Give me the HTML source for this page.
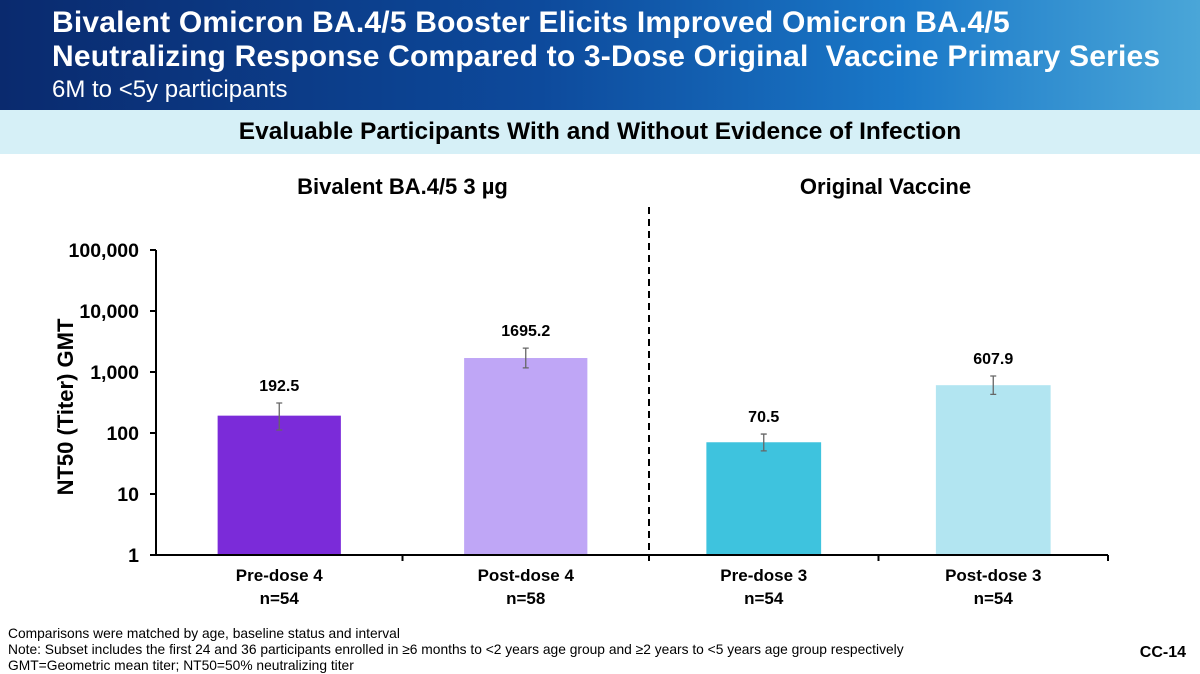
<!DOCTYPE html>
<html><head><meta charset="utf-8"><style>
body{margin:0;width:1200px;height:674px;overflow:hidden;background:#fff;font-family:"Liberation Sans",Arial,sans-serif;position:relative}
.hdr{position:absolute;left:0;top:0;width:1200px;height:110px;background:linear-gradient(90deg,#0a2a6e 0%,#0d4a9c 45%,#1a78c8 75%,#4aa6d8 100%)}
.t{position:absolute;left:52px;color:#fff;font-weight:bold;font-size:30px;white-space:nowrap;letter-spacing:0.2px}
.band{position:absolute;left:0;top:110px;width:1200px;height:44px;background:#d6f0f7}
.note{position:absolute;left:8px;font-size:13.8px;color:#000;white-space:nowrap}
</style></head><body>
<div class="hdr"></div>
<div class="t" style="top:6px">Bivalent Omicron BA.4/5 Booster Elicits Improved Omicron BA.4/5</div>
<div class="t" style="top:40px">Neutralizing Response Compared to 3-Dose Original&nbsp; Vaccine Primary Series</div>
<div class="t" style="top:76px;font-weight:normal;font-size:24px;letter-spacing:0">6M to &lt;5y participants</div>
<div class="band"></div>
<div style="position:absolute;top:118px;width:1200px;text-align:center;font-weight:bold;font-size:24.5px">Evaluable Participants With and Without Evidence of Infection</div>
<svg id="chart" width="1200" height="674" style="position:absolute;left:0;top:0"></svg>
<div class="note" style="top:626px">Comparisons were matched by age, baseline status and interval</div>
<div class="note" style="top:642px">Note: Subset includes the first 24 and 36 participants enrolled in ≥6 months to &lt;2 years age group and ≥2 years to &lt;5 years age group respectively</div>
<div class="note" style="top:658px">GMT=Geometric mean titer; NT50=50% neutralizing titer</div>
<div style="position:absolute;right:14px;top:644px;font-weight:bold;font-size:16px">CC-14</div>
<script>
const categories=["Pre-dose 4","Post-dose 4","Pre-dose 3","Post-dose 3"];
const nLabels=["n=54","n=58","n=54","n=54"];
const groups=["Bivalent BA.4/5 3 µg","Original Vaccine"];
const groupOf=[0,0,1,1];
const values=[192.5,1695.2,70.5,607.9];
const valueLabels=["192.5","1695.2","70.5","607.9"];
const errHigh=[310,2460,96,860];
const errLow=[112,1170,51,430];
const tickValues=[1,10,100,1000,10000,100000];
const tickLabels=["1","10","100","1,000","10,000","100,000"];
const colors=["#7b2bd9","#bfa6f6","#3ec3de","#b2e5f1"];

const NS="http://www.w3.org/2000/svg";
const svg=document.getElementById('chart');
const y0=555,dec=61,axL=156,axR=1108,split=649;
const groupRange=[[axL,split],[split,axR]];
function yScale(v){return y0-Math.log10(v)*dec;}
function band(i){const g=groupOf[i];const idx=groupOf.slice(0,i).filter(x=>x===g).length;const cnt=groupOf.filter(x=>x===g).length;const r=groupRange[g];const w=(r[1]-r[0])/cnt;return {x0:r[0]+idx*w,w:w};}
function mk(tag,attrs,parent){const e=document.createElementNS(NS,tag);for(const k in attrs)e.setAttribute(k,attrs[k]);(parent||svg).appendChild(e);return e;}

let ax=mk('line',{x1:axL,y1:yScale(100000),x2:axL,y2:y0,stroke:'#000','stroke-width':2});


tickValues.forEach((v,i)=>{
  const y=yScale(v);
  const tk=mk('line',{x1:axL-6,y1:y,x2:axL,y2:y,stroke:'#000','stroke-width':2});
  
  
  const t=mk('text',{x:axL-17,y:y+7,'text-anchor':'end','font-size':19.5,'font-weight':'bold'});
  t.textContent=tickLabels[i];
  
  
});
const yt=mk('text',{x:0,y:0,'text-anchor':'middle','font-size':22,'font-weight':'bold',transform:'translate(73,407) rotate(-90)'});
yt.textContent='NT50 (Titer) GMT';


const xa=mk('line',{x1:axL,y1:y0,x2:axR,y2:y0,stroke:'#000','stroke-width':2});


categories.forEach((c,i)=>{
  const b=band(i);const cx=b.x0+b.w/2;const bw=b.w*0.5;
  const tk=mk('line',{x1:b.x0+b.w,y1:y0,x2:b.x0+b.w,y2:y0+6,stroke:'#000','stroke-width':2});
  
  
  const r=mk('rect',{x:cx-bw/2,y:yScale(values[i]),width:bw,height:y0-yScale(values[i])-1,fill:colors[i]});
  
  
  const e=mk('path',{d:`M${cx-3},${yScale(errHigh[i])}H${cx+3}M${cx},${yScale(errHigh[i])}V${yScale(errLow[i])}M${cx-3},${yScale(errLow[i])}H${cx+3}`,stroke:'#666','stroke-width':1.3,fill:'none'});
  
  
  const vl=mk('text',{x:cx,y:yScale(errHigh[i])-12,'text-anchor':'middle','font-size':16,'font-weight':'bold'});
  vl.textContent=valueLabels[i];
  
  
  const cl=mk('text',{x:cx,y:581,'text-anchor':'middle','font-size':17,'font-weight':'bold'});
  cl.textContent=c;
  
  
  const nl=mk('text',{x:cx,y:604,'text-anchor':'middle','font-size':17,'font-weight':'bold'});
  nl.textContent=nLabels[i];
  
  
});
groups.forEach((g,k)=>{
  const r=groupRange[k];
  const gt=mk('text',{x:(r[0]+r[1])/2+(k===0?0:7),y:194,'text-anchor':'middle','font-size':22,'font-weight':'bold'});
  gt.textContent=g;
  
  
});
const dv=mk('line',{x1:split,y1:207,x2:split,y2:y0,stroke:'#000','stroke-width':2,'stroke-dasharray':'7,5'});


</script>
</body></html>
